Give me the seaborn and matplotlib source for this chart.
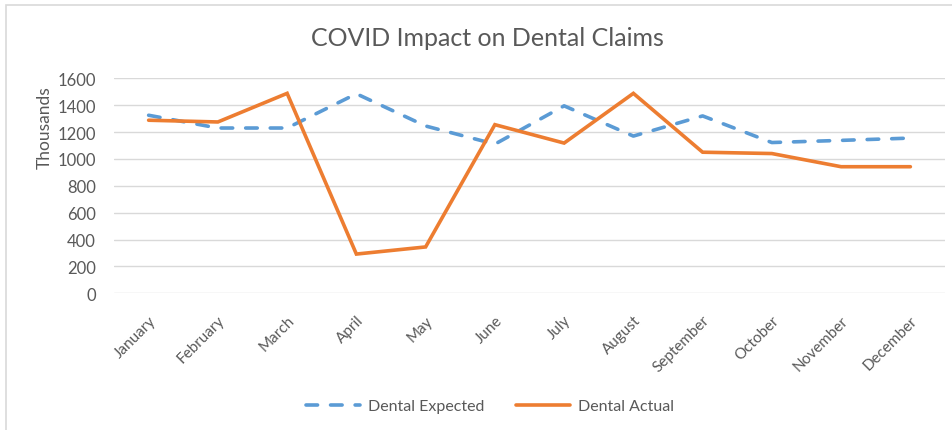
import matplotlib
matplotlib.use("Agg")
import matplotlib.pyplot as plt
import seaborn as sns
import pandas as pd
from matplotlib.patches import Rectangle
from matplotlib.lines import Line2D

months = ["January", "February", "March", "April", "May", "June", "July",
          "August", "September", "October", "November", "December"]
dental_expected = [1325, 1230, 1230, 1485, 1245, 1110, 1395, 1170, 1320, 1122, 1138, 1155]
dental_actual = [1288, 1275, 1488, 292, 345, 1255, 1118, 1488, 1050, 1040, 942, 942]
yticks = [0, 200, 400, 600, 800, 1000, 1200, 1400, 1600]

sns.set_theme(style="white")
plt.rcParams['font.family'] = ['Lato', 'DejaVu Sans']

BLUE = "#5B9BD5"
ORANGE = "#ED7D31"
TXT = "#595959"
GRID = "#D9D9D9"

df = pd.DataFrame({
    "month": months * 2,
    "x": list(range(12)) * 2,
    "value": dental_expected + dental_actual,
    "series": ["Dental Expected"] * 12 + ["Dental Actual"] * 12,
})

fig = plt.figure(figsize=(9.52, 4.31), dpi=100)
ax = fig.add_axes([114 / 952, 1 - 294.3 / 431, (945 - 114) / 952, (294.3 - 79.3) / 431])

sns.lineplot(data=df, x="x", y="value", hue="series", style="series",
             palette={"Dental Expected": BLUE, "Dental Actual": ORANGE},
             dashes={"Dental Expected": (3.2, 3.6), "Dental Actual": ""},
             linewidth=2.6, ax=ax, legend=False, sort=False)
for ln in ax.get_lines():
    ln.set_dash_capstyle("round")
    ln.set_solid_capstyle("round")
    ln.set_solid_joinstyle("miter")

ax.set_xlim(-0.5, 11.5)
ax.set_ylim(0, 1600)
ax.set_yticks(yticks)
ax.set_yticklabels([str(v) for v in yticks], color=TXT, fontsize=12)
ax.set_xticks(range(12))
ax.set_xticklabels(months, rotation=45, ha="right", va="top",
                   rotation_mode="anchor", color=TXT, fontsize=11)
ax.tick_params(axis="y", length=0, pad=13)
ax.tick_params(axis="x", length=0, pad=14)
ax.grid(axis="y", color=GRID, linewidth=1)
ax.set_axisbelow(True)
for s in ax.spines.values():
    s.set_visible(False)
ax.set_xlabel("")
ax.set_ylabel("")

fig.text(487 / 952, 1 - 38 / 431, "COVID Impact on Dental Claims",
         ha="center", va="center", fontsize=18, color=TXT)
fig.text(45 / 952, 1 - 128 / 431, "Thousands", rotation=90,
         ha="center", va="center", fontsize=12.5, color=TXT)

handles = [Line2D([], [], color=BLUE, lw=2.6, dashes=(3.2, 3.6), dash_capstyle="round"),
           Line2D([], [], color=ORANGE, lw=2.6)]
fig.legend(handles, ["Dental Expected", "Dental Actual"], loc="center",
           bbox_to_anchor=(490 / 952, 1 - 407 / 431), ncol=2, frameon=False,
           fontsize=11.5, labelcolor=TXT, handlelength=3.4, columnspacing=2.0,
           handletextpad=0.5)

fig.patches.append(Rectangle((6 / 952, -0.1), 1.2, (425 / 431) + 0.1,
                             transform=fig.transFigure, fill=False,
                             edgecolor="#D9D9D9", linewidth=1.2))

fig.savefig("out.png", dpi=100, facecolor="white")
